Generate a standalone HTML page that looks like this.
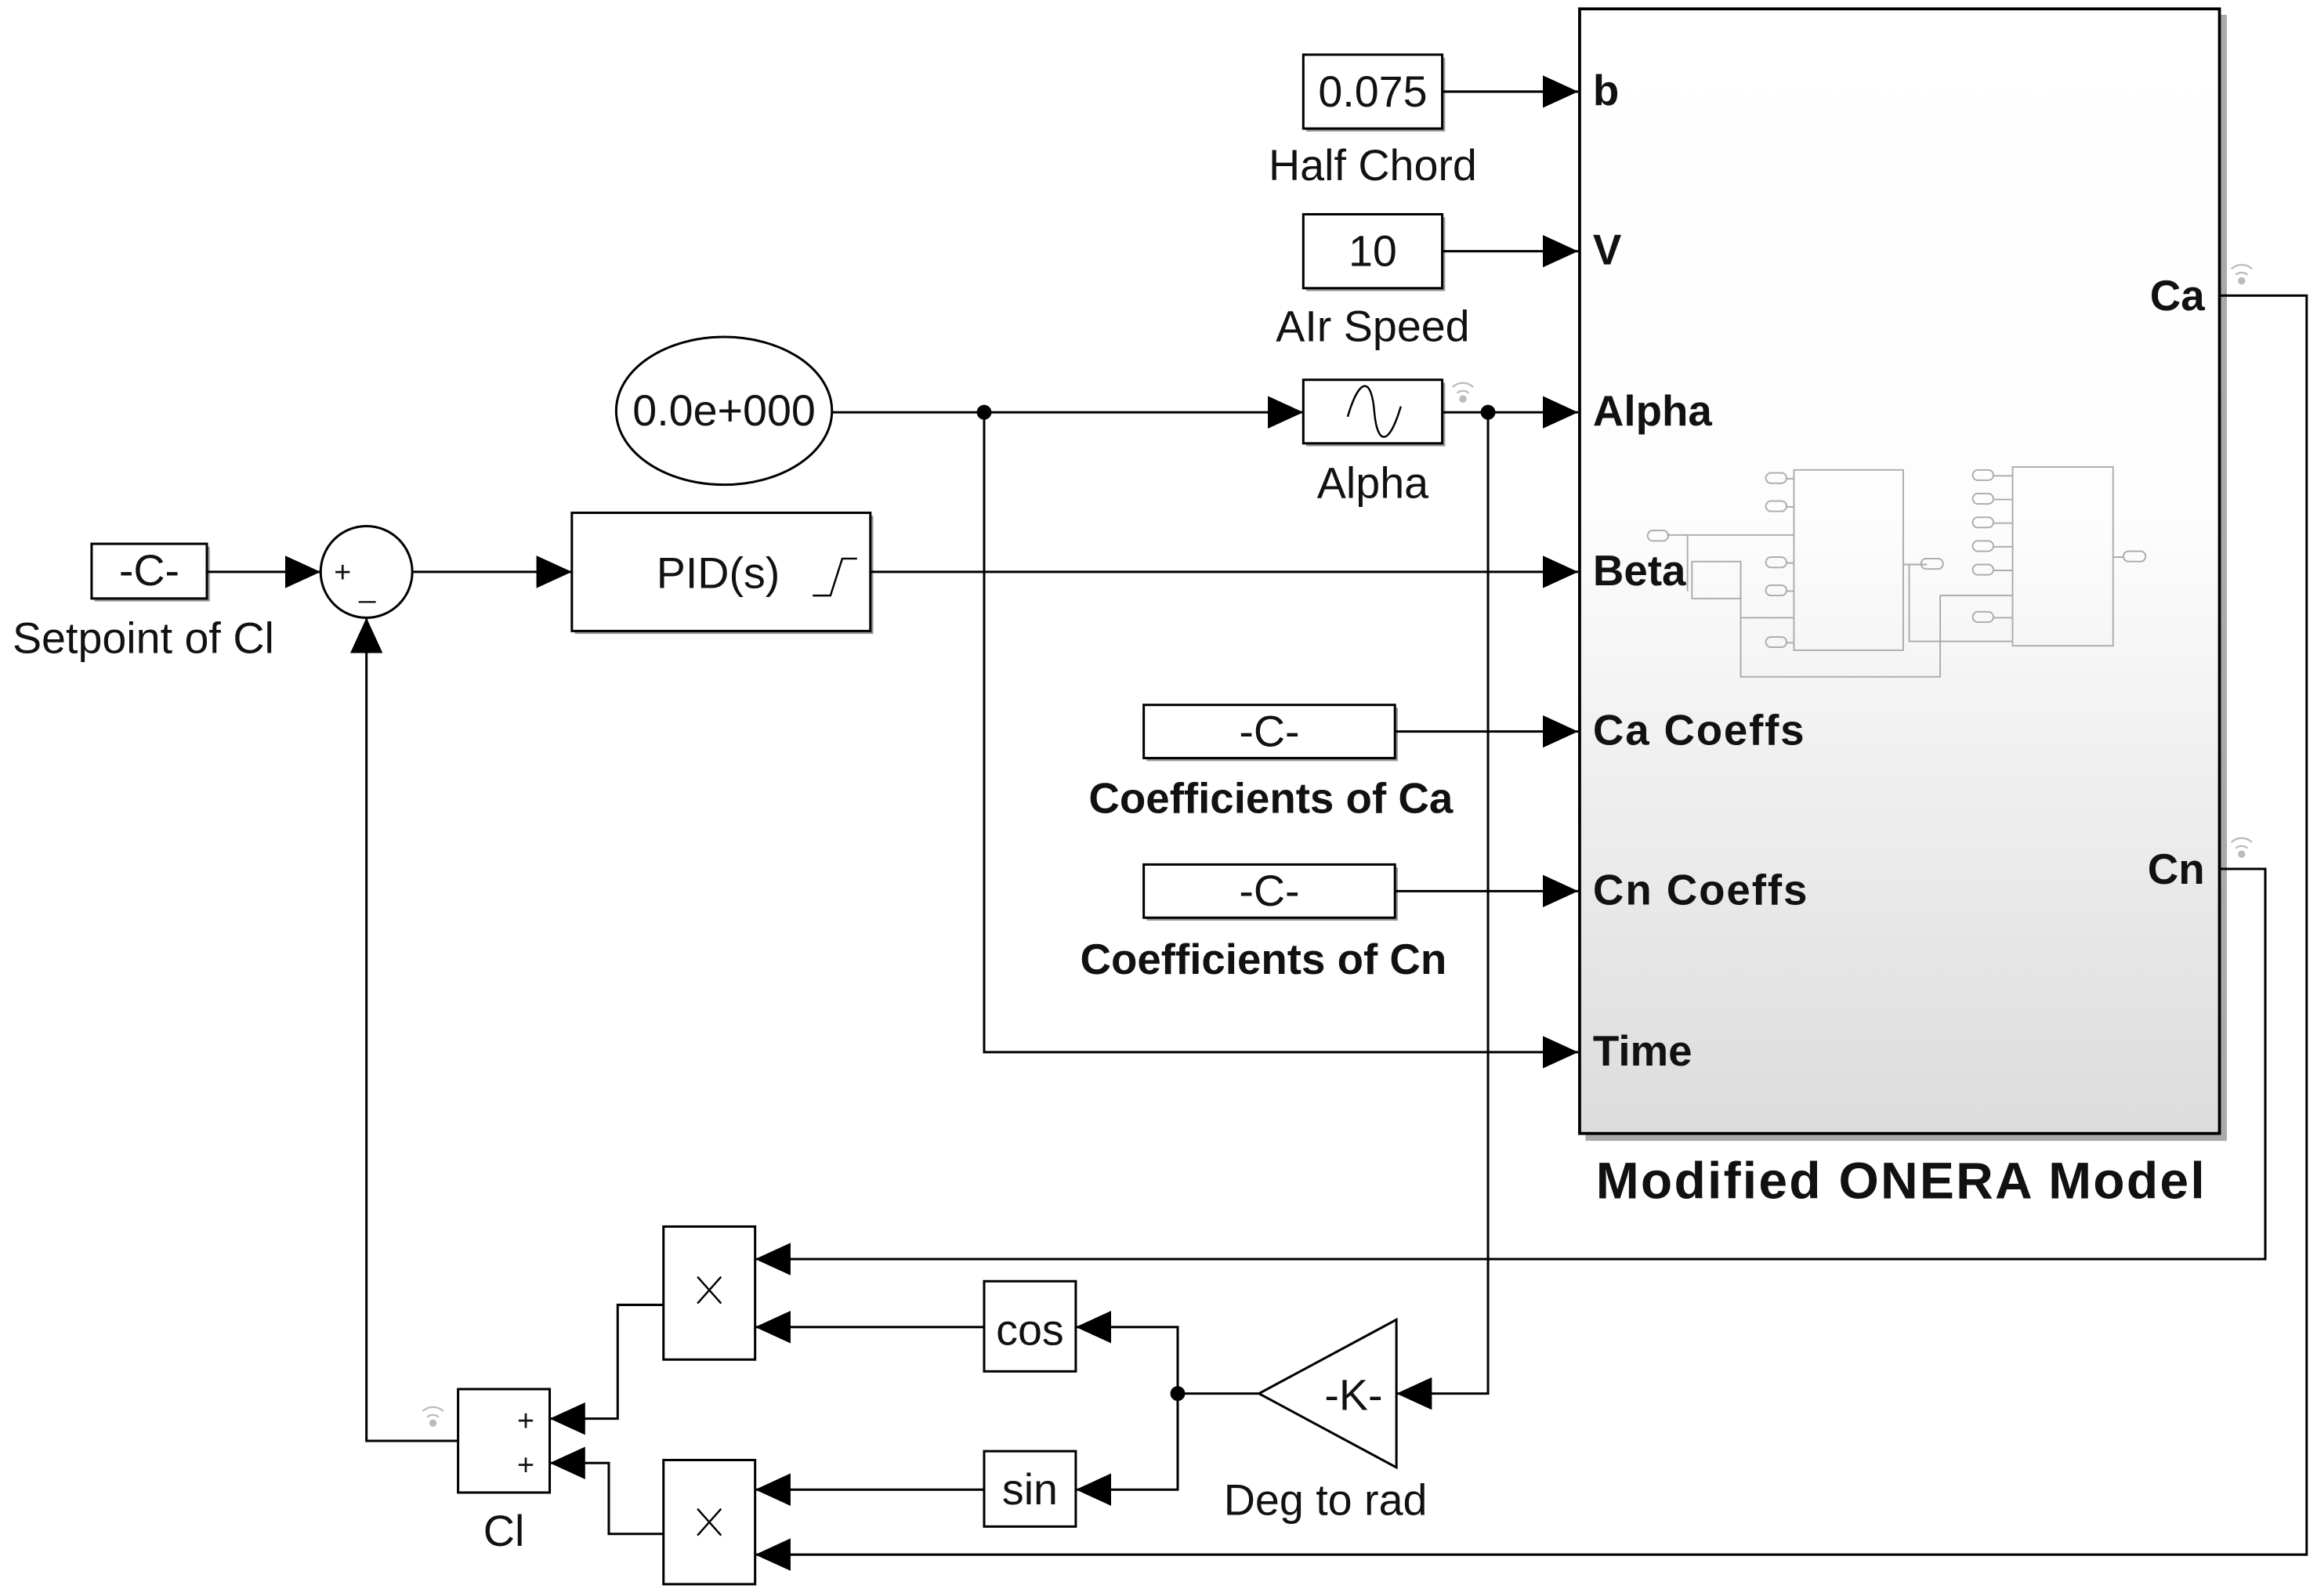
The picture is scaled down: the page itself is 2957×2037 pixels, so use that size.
<!DOCTYPE html>
<html><head><meta charset="utf-8"><style>
html,body{margin:0;padding:0;background:#fff;}
svg{display:block;}
text{font-family:"Liberation Sans",sans-serif;fill:#111;}
.b{font-weight:bold;}
</style></head><body>
<svg width="2957" height="2037" viewBox="0 0 1568 1080" preserveAspectRatio="none" xmlns="http://www.w3.org/2000/svg">
<defs>
<linearGradient id="g" x1="0" y1="0" x2="0" y2="1">
<stop offset="0" stop-color="#ffffff"/><stop offset="0.45" stop-color="#fdfdfd"/><stop offset="1" stop-color="#dcdcdc"/>
</linearGradient>
<marker id="a" markerWidth="24" markerHeight="22" refX="24" refY="11" orient="auto" markerUnits="userSpaceOnUse">
<path d="M0,0 L24,11 L0,22 Z" fill="#000"/></marker>
</defs>
<rect width="1568" height="1080" fill="#fff"/>
<g fill="none" stroke="#000" stroke-width="1.6">
<rect x="1073" y="10" width="434" height="762" fill="#aaa" stroke="none"/>
<rect x="1069" y="6" width="433" height="761" fill="url(#g)" stroke-width="2"/>
<g stroke="#aaa" stroke-width="1">
<rect x="1214" y="318" width="74" height="122"/><rect x="1362" y="316" width="68" height="121"/>
<rect x="1145" y="380" width="33" height="25"/>
<path d="M1128,362 H1214 M1142,362 V400 M1178,392 V458 H1313 V403 H1362 M1178,418 H1214 M1288,382 H1292 V434 H1362 M1304,382 H1290"/>
<rect x="1115" y="359" width="14" height="7" rx="3.5"/>
<rect x="1195" y="320" width="14" height="7" rx="3.5"/><rect x="1195" y="339" width="14" height="7" rx="3.5"/>
<rect x="1195" y="377" width="14" height="7" rx="3.5"/><rect x="1195" y="396" width="14" height="7" rx="3.5"/>
<rect x="1195" y="431" width="14" height="7" rx="3.5"/><rect x="1300" y="378" width="15" height="7" rx="3.5"/>
<rect x="1335" y="318" width="14" height="7" rx="3.5"/><rect x="1335" y="334" width="14" height="7" rx="3.5"/>
<rect x="1335" y="350" width="14" height="7" rx="3.5"/><rect x="1335" y="366" width="14" height="7" rx="3.5"/>
<rect x="1335" y="382" width="14" height="7" rx="3.5"/><rect x="1335" y="414" width="14" height="7" rx="3.5"/>
<rect x="1437" y="373" width="15" height="7" rx="3.5"/>
<path d="M1349,322 H1362 M1349,338 H1362 M1349,354 H1362 M1349,370 H1362 M1349,386 H1362 M1349,418 H1362 M1209,324 H1214 M1209,343 H1214 M1209,381 H1214 M1209,400 H1214 M1209,435 H1214 M1430,377 H1437"/>
</g>
<rect x="884" y="39" width="94" height="50" fill="#999" stroke="none"/>
<rect x="882" y="37" width="94" height="50" fill="#fff"/>
<rect x="884" y="147" width="94" height="50" fill="#999" stroke="none"/>
<rect x="882" y="145" width="94" height="50" fill="#fff"/>
<rect x="884" y="259" width="94" height="43" fill="#999" stroke="none"/>
<rect x="882" y="257" width="94" height="43" fill="#fff"/>
<path d="M912,282 C920,255 928,255 930,278 C932,302 940,302 948,275" stroke-width="1.3"/>
<ellipse cx="490" cy="278" rx="73" ry="50" fill="#fff"/>
<rect x="64" y="370" width="78" height="37" fill="#999" stroke="none"/>
<rect x="62" y="368" width="78" height="37" fill="#fff"/>
<circle cx="248" cy="387" r="31" fill="#fff"/>
<rect x="389" y="349" width="202" height="80" fill="#999" stroke="none"/>
<rect x="387" y="347" width="202" height="80" fill="#fff"/>
<path d="M550,403 H562 L570,378 H580" stroke-width="1.3"/>
<rect x="776" y="479" width="170" height="36" fill="#999" stroke="none"/>
<rect x="774" y="477" width="170" height="36" fill="#fff"/>
<rect x="776" y="587" width="170" height="36" fill="#999" stroke="none"/>
<rect x="774" y="585" width="170" height="36" fill="#fff"/>
<rect x="449" y="830" width="62" height="90" fill="#fff"/>
<rect x="449" y="988" width="62" height="84" fill="#fff"/>
<path d="M472,864 L488,882 M488,864 L472,882 M472,1021 L488,1039 M488,1021 L472,1039" stroke-width="1.3"/>
<rect x="666" y="867" width="62" height="61" fill="#fff"/>
<rect x="666" y="982" width="62" height="51" fill="#fff"/>
<path d="M852,943 L945,893 L945,993 Z" fill="#fff"/>
<rect x="310" y="940" width="62" height="70" fill="#fff"/>
<path d="M976,62 H1068" marker-end="url(#a)"/>
<path d="M976,170 H1068" marker-end="url(#a)"/>
<path d="M563,279 H882" marker-end="url(#a)"/>
<path d="M976,279 H1068" marker-end="url(#a)"/>
<path d="M666,279 V712 H1068" marker-end="url(#a)"/>
<path d="M1007,279 V943 H945" marker-end="url(#a)"/>
<path d="M140,387 H217" marker-end="url(#a)"/>
<path d="M279,387 H387" marker-end="url(#a)"/>
<path d="M589,387 H1068" marker-end="url(#a)"/>
<path d="M944,495 H1068" marker-end="url(#a)"/>
<path d="M944,603 H1068" marker-end="url(#a)"/>
<path d="M1502,588 H1533 V852 H511" marker-end="url(#a)"/>
<path d="M1502,200 H1561 V1052 H511" marker-end="url(#a)"/>
<path d="M852,943 H797 V898 H728" marker-end="url(#a)"/>
<path d="M797,943 V1008 H728" marker-end="url(#a)"/>
<path d="M666,898 H511" marker-end="url(#a)"/>
<path d="M666,1008 H511" marker-end="url(#a)"/>
<path d="M449,883 H418 V960 H372" marker-end="url(#a)"/>
<path d="M449,1038 H412 V990 H372" marker-end="url(#a)"/>
<path d="M310,975 H248 V418" marker-end="url(#a)"/>
</g>
<circle cx="666" cy="279" r="5" fill="#000"/>
<circle cx="1007" cy="279" r="5" fill="#000"/>
<circle cx="797" cy="943" r="5" fill="#000"/>
<g fill="none" stroke="#bbb" stroke-width="1.2">
<path d="M983,262 a10,10 0 0 1 14,0 M986,266 a6,6 0 0 1 8,0"/>
<path d="M1510,182 a10,10 0 0 1 14,0 M1513,186 a6,6 0 0 1 8,0"/>
<path d="M1510,570 a10,10 0 0 1 14,0 M1513,574 a6,6 0 0 1 8,0"/>
<path d="M286,955 a10,10 0 0 1 14,0 M289,959 a6,6 0 0 1 8,0"/>
</g>
<g fill="#bbb"><circle cx="990" cy="270" r="2.5"/><circle cx="1517" cy="190" r="2.5"/><circle cx="1517" cy="578" r="2.5"/><circle cx="293" cy="963" r="2.5"/></g>
<g font-size="29.5" text-anchor="middle">
<text x="929" y="72">0.075</text>
<text x="929" y="122">Half Chord</text>
<text x="929" y="180">10</text>
<text x="929" y="231">AIr Speed</text>
<text x="929" y="337">Alpha</text>
<text x="490" y="288">0.0e+000</text>
<text x="101" y="396">-C-</text>
<text x="97" y="442">Setpoint of Cl</text>
<text x="486" y="398">PID(s)</text>
<text x="859" y="505">-C-</text>
<text x="859" y="613">-C-</text>
<text x="697" y="910">cos</text>
<text x="697" y="1018">sin</text>
<text x="916" y="954">-K-</text>
<text x="897" y="1025">Deg to rad</text>
<text x="341" y="1046">Cl</text>
</g>
<text x="226" y="394" font-size="20">+</text>
<text x="243" y="404" font-size="20">_</text>
<text x="350" y="968" font-size="20">+</text>
<text x="350" y="998" font-size="20">+</text>
<g font-size="29">
<text class="b" x="860" y="550" text-anchor="middle">Coefficients of Ca</text>
<text class="b" x="855" y="659" text-anchor="middle">Coefficients of Cn</text>
<text class="b" x="1078" y="71">b</text>
<text class="b" x="1078" y="179">V</text>
<text class="b" x="1078" y="288">Alpha</text>
<text class="b" x="1078" y="396">Beta</text>
<text class="b" x="1078" y="504" textLength="143">Ca Coeffs</text>
<text class="b" x="1078" y="612" textLength="145">Cn Coeffs</text>
<text class="b" x="1078" y="721">Time</text>
<text class="b" x="1492" y="210" text-anchor="end">Ca</text>
<text class="b" x="1492" y="598" text-anchor="end">Cn</text>
</g>
<text class="b" x="1080" y="811" font-size="35" textLength="412">Modified ONERA Model</text>
</svg>
</body></html>
